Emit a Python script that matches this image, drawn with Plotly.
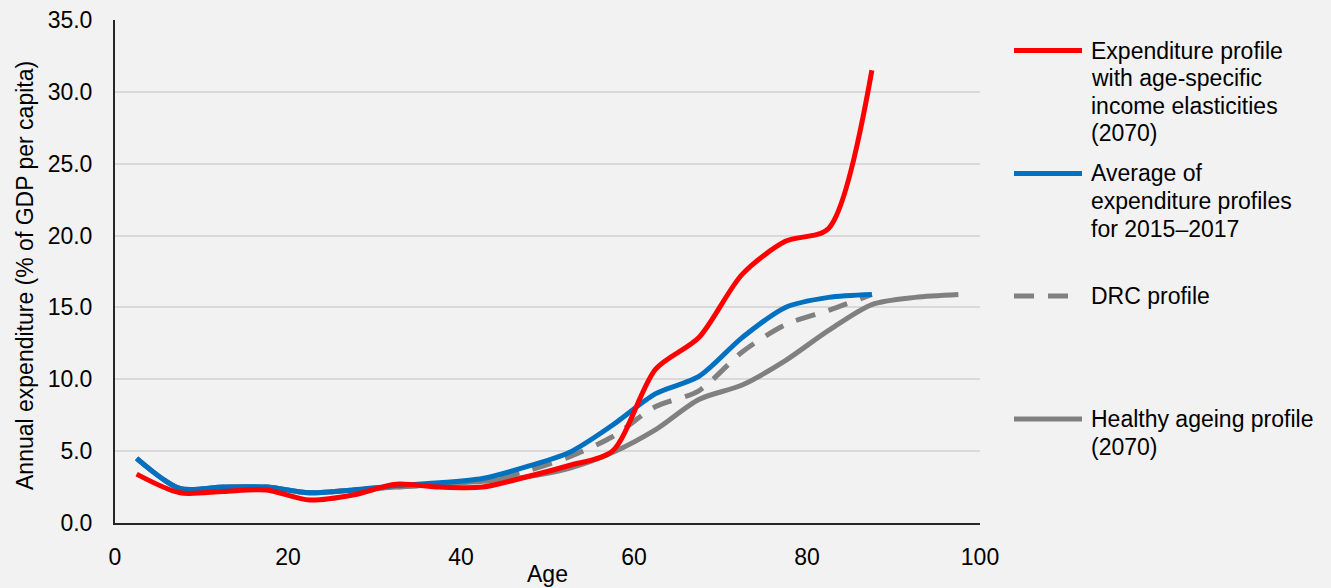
import plotly.graph_objects as go

ages = [2.5, 7.5, 12.5, 17.5, 22.5, 27.5, 32.5, 37.5, 42.5, 47.5,
        52.5, 57.5, 62.5, 67.5, 72.5, 77.5, 82.5, 87.5]
ages_healthy = ages + [92.5, 97.5]

red_elasticities = [3.4, 2.1, 2.2, 2.3, 1.6, 1.95, 2.7, 2.5, 2.5, 3.2,
                    4.0, 5.0, 10.7, 12.9, 17.3, 19.6, 20.5, 31.5]
blue_average = [4.5, 2.4, 2.5, 2.5, 2.1, 2.3, 2.6, 2.8, 3.1, 3.9,
                4.9, 6.8, 9.0, 10.2, 12.9, 15.0, 15.7, 15.9]
drc_profile = [4.5, 2.4, 2.5, 2.5, 2.1, 2.3, 2.5, 2.7, 3.0, 3.6,
               4.6, 6.0, 8.1, 9.2, 11.9, 13.8, 14.8, 15.9]
healthy_ageing = [4.5, 2.4, 2.5, 2.5, 2.1, 2.3, 2.5, 2.7, 2.9, 3.2,
                  3.8, 4.9, 6.5, 8.6, 9.6, 11.3, 13.4, 15.2, 15.7, 15.9]

y_ticks = [0, 5, 10, 15, 20, 25, 30, 35]
x_ticks = [0, 20, 40, 60, 80, 100]

legend_labels = [
    ["Expenditure profile", "with age-specific", "income elasticities", "(2070)"],
    ["Average of", "expenditure profiles", "for 2015\u20132017"],
    ["DRC profile"],
    ["Healthy ageing profile", "(2070)"],
]

RED = "#FF0000"
BLUE = "#0070C0"
GRAY = "#808080"
FONT = "Liberation Sans, Arial, sans-serif"
FS = 23
LW = 5

fig = go.Figure()
fig.add_trace(go.Scatter(x=ages_healthy, y=healthy_ageing, mode="lines",
                         line=dict(color=GRAY, width=LW, shape="spline", smoothing=0.8),
                         name="Healthy ageing profile (2070)"))
fig.add_trace(go.Scatter(x=ages, y=drc_profile, mode="lines",
                         line=dict(color=GRAY, width=LW, shape="spline", smoothing=0.8,
                                   dash="20px,14px"),
                         name="DRC profile"))
fig.add_trace(go.Scatter(x=ages, y=blue_average, mode="lines",
                         line=dict(color=BLUE, width=LW, shape="spline", smoothing=0.8),
                         name="Average of expenditure profiles for 2015\u20132017"))
fig.add_trace(go.Scatter(x=ages, y=red_elasticities, mode="lines",
                         line=dict(color=RED, width=LW, shape="spline", smoothing=0.8),
                         name="Expenditure profile with age-specific income elasticities (2070)"))

# plot area geometry in pixels
L, R, T, B = 115, 980, 20, 523
W, H = R - L, B - T


def px_x(p):
    return (p - L) / W


def px_y(p):
    return (B - p) / H


shapes = []
annotations = []
legend_rows = [
    (RED, None, 50.5, [50.5, 78, 105.5, 133]),
    (BLUE, None, 173.5, [173.5, 201, 228.5]),
    (GRAY, "20px,14px", 296, [296]),
    (GRAY, None, 419, [419, 446.5]),
]
for (color, dash, ly, text_ys), lines in zip(legend_rows, legend_labels):
    shapes.append(dict(type="line", xref="paper", yref="paper",
                       x0=px_x(1014), x1=px_x(1082), y0=px_y(ly), y1=px_y(ly),
                       line=dict(color=color, width=LW, dash=dash)))
    for ty, txt in zip(text_ys, lines):
        annotations.append(dict(xref="paper", yref="paper", x=px_x(1089), y=px_y(ty),
                                xanchor="left", yanchor="middle", text=txt,
                                showarrow=False,
                                font=dict(family=FONT, size=FS, color="#000000")))

annotations.append(dict(xref="paper", yref="paper", x=px_x(25), y=px_y(276),
                        xanchor="center", yanchor="middle", textangle=-90,
                        text="Annual expenditure (% of GDP per capita)", showarrow=False,
                        font=dict(family=FONT, size=FS, color="#000000")))
annotations.append(dict(xref="paper", yref="paper", x=px_x(547), y=px_y(574),
                        xanchor="center", yanchor="middle",
                        text="Age", showarrow=False,
                        font=dict(family=FONT, size=FS, color="#000000")))

fig.update_layout(
    width=1331, height=588,
    margin=dict(l=L, r=1331 - R, t=T, b=588 - B, autoexpand=False),
    paper_bgcolor="#F2F2F2", plot_bgcolor="#F2F2F2",
    showlegend=False,
    font=dict(family=FONT, size=FS, color="#000000"),
    shapes=shapes, annotations=annotations,
    xaxis=dict(range=[0, 100], tickvals=x_ticks, ticktext=[str(v) for v in x_ticks],
               showgrid=False, zeroline=False, showline=True,
               linecolor="#262626", linewidth=2, ticks="",
               ticklabelstandoff=12,
               tickfont=dict(family=FONT, size=FS, color="#000000")),
    yaxis=dict(range=[0, 35], tickvals=y_ticks, ticktext=[f"{v:.1f}" for v in y_ticks],
               showgrid=True, gridcolor="#D9D9D9", gridwidth=1.5,
               zeroline=False, showline=True, linecolor="#262626", linewidth=2,
               ticks="", ticklabelstandoff=16,
               tickfont=dict(family=FONT, size=FS, color="#000000")),
)

fig.write_html("out.html",
               config={"displayModeBar": False},
               post_script="document.body.style.margin='0';"
                           "document.body.style.padding='0';"
                           "document.body.style.background='#F2F2F2';")
